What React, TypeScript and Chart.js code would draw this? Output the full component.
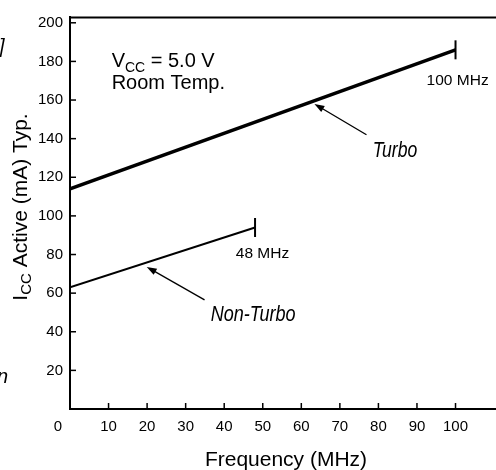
import React, { useEffect, useRef } from 'react';
import { Chart, registerables } from 'chart.js';

Chart.register(...registerables);

// ---- data ----
const xTickValues = [0, 10, 20, 30, 40, 50, 60, 70, 80, 90, 100];
const yTickValues = [20, 40, 60, 80, 100, 120, 140, 160, 180, 200];
const turboFreq = [0, 100];
const turboIcc = [114, 186];
const nonTurboFreq = [0, 48];
const nonTurboIcc = [63, 94];
const xAxisTitle = 'Frequency (MHz)';
const turboLabel = 'Turbo';
const nonTurboLabel = 'Non-Turbo';
const turboEndLabel = '100 MHz';
const nonTurboEndLabel = '48 MHz';
const conditionLine2 = 'Room Temp.';

const FONT = '"Liberation Sans", Arial, Helvetica, sans-serif';

type Seg = { text: string; size: number; dy: number };

function drawRich(ctx: CanvasRenderingContext2D, segs: Seg[], x: number, y: number, center: boolean) {
  let total = 0;
  const widths = segs.map((s) => {
    ctx.font = `${s.size}px ${FONT}`;
    const w = ctx.measureText(s.text).width;
    total += w;
    return w;
  });
  let cx = center ? x - total / 2 : x;
  segs.forEach((s, i) => {
    ctx.font = `${s.size}px ${FONT}`;
    ctx.fillText(s.text, cx, y + s.dy);
    cx += widths[i];
  });
}

function drawCondensed(ctx: CanvasRenderingContext2D, text: string, x: number, y: number, font: string, sx: number) {
  ctx.save();
  ctx.translate(x, y);
  ctx.scale(sx, 1);
  ctx.font = font;
  ctx.fillText(text, 0, 0);
  ctx.restore();
}

function drawArrow(ctx: CanvasRenderingContext2D, x1: number, y1: number, x2: number, y2: number) {
  const ang = Math.atan2(y2 - y1, x2 - x1);
  const hl = 10;
  const hw = 3.5;
  ctx.beginPath();
  ctx.moveTo(x1, y1);
  ctx.lineTo(x2 - Math.cos(ang) * hl * 0.8, y2 - Math.sin(ang) * hl * 0.8);
  ctx.lineWidth = 1.3;
  ctx.strokeStyle = '#000';
  ctx.stroke();
  ctx.beginPath();
  ctx.moveTo(x2, y2);
  ctx.lineTo(x2 - Math.cos(ang) * hl + Math.sin(ang) * hw, y2 - Math.sin(ang) * hl - Math.cos(ang) * hw);
  ctx.lineTo(x2 - Math.cos(ang) * hl - Math.sin(ang) * hw, y2 - Math.sin(ang) * hl + Math.cos(ang) * hw);
  ctx.closePath();
  ctx.fillStyle = '#000';
  ctx.fill();
}

const decorPlugin = {
  id: 'decor',
  afterDraw(chart: any) {
    const ctx: CanvasRenderingContext2D = chart.ctx;
    const { chartArea } = chart;
    const xs = chart.scales.x;
    const ys = chart.scales.y;
    const px = (v: number) => xs.getPixelForValue(v);
    const py = (v: number) => ys.getPixelForValue(v);
    ctx.save();
    ctx.strokeStyle = '#000';
    ctx.fillStyle = '#000';

    // top frame line
    ctx.lineWidth = 2;
    ctx.beginPath();
    ctx.moveTo(chartArea.left - 1, chartArea.top + 0.5);
    ctx.lineTo(chartArea.right, chartArea.top + 0.5);
    ctx.stroke();

    // inward tick marks
    ctx.lineWidth = 1.5;
    xTickValues.forEach((v) => {
      if (v === 0) return;
      const x = px(v);
      ctx.beginPath();
      ctx.moveTo(x, chartArea.bottom);
      ctx.lineTo(x, chartArea.bottom - 6);
      ctx.stroke();
    });
    yTickValues.forEach((v) => {
      const y = py(v);
      ctx.beginPath();
      ctx.moveTo(chartArea.left, y);
      ctx.lineTo(chartArea.left + 6, y);
      ctx.stroke();
    });

    // the "0" label sits left of the axis
    ctx.font = `15px ${FONT}`;
    ctx.textAlign = 'center';
    ctx.textBaseline = 'middle';
    ctx.fillText(String(xTickValues[0]), px(0) - 12, chartArea.bottom + 18);

    ctx.textAlign = 'left';
    ctx.textBaseline = 'alphabetic';

    // condition text
    drawRich(
      ctx,
      [
        { text: 'V', size: 20, dy: 0 },
        { text: 'CC', size: 14, dy: 5 },
        { text: ' = 5.0 V', size: 20, dy: 0 },
      ],
      px(10.8),
      py(177),
      false
    );
    ctx.font = `20px ${FONT}`;
    ctx.fillText(conditionLine2, px(10.8), py(165.7));

    // end labels
    ctx.font = `15.5px ${FONT}`;
    ctx.fillText(turboEndLabel, px(92.5), py(167.8));
    ctx.fillText(nonTurboEndLabel, px(43), py(78.2));

    // series labels (italic, condensed)
    drawCondensed(ctx, turboLabel, px(78.5), py(130.5), `italic 22px ${FONT}`, 0.8);
    drawCondensed(ctx, nonTurboLabel, px(36.5), py(45.6), `italic 22px ${FONT}`, 0.82);

    // arrows
    drawArrow(ctx, px(76.9), py(142), px(63.4), py(158));
    drawArrow(ctx, px(34.9), py(56.5), px(19.9), py(73.6));

    // x axis title
    ctx.font = `21px ${FONT}`;
    ctx.textAlign = 'center';
    ctx.fillText(xAxisTitle, 286, 466);

    // y axis title (rotated, with subscript)
    ctx.save();
    ctx.translate(27, 207);
    ctx.rotate(-Math.PI / 2);
    ctx.textAlign = 'left';
    drawRich(
      ctx,
      [
        { text: 'I', size: 21, dy: 0 },
        { text: 'CC', size: 15, dy: 4 },
        { text: ' Active (mA) Typ.', size: 21, dy: 0 },
      ],
      0,
      0,
      true
    );
    ctx.restore();

    // clipped fragments of neighbouring text at the left edge
    ctx.textAlign = 'left';
    ctx.font = `italic 20px ${FONT}`;
    ctx.fillText(']', -1, 53);
    ctx.fillText('n', -3, 383);

    ctx.restore();
  },
};

export default function App() {
  const canvasRef = useRef<HTMLCanvasElement | null>(null);

  useEffect(() => {
    const canvas = canvasRef.current;
    if (!canvas) return;
    const chart = new Chart(canvas, {
      type: 'line',
      data: {
        datasets: [
          {
            label: turboLabel,
            data: turboFreq.map((f, i) => ({ x: f, y: turboIcc[i] })),
            borderColor: '#000',
            borderWidth: 3.5,
            pointStyle: 'line',
            rotation: 90,
            pointRadius: turboFreq.map((_, i) => (i === turboFreq.length - 1 ? 9.5 : 0)),
            pointBorderWidth: 2,
            pointBorderColor: '#000',
            pointBackgroundColor: '#000',
            fill: false,
            tension: 0,
          },
          {
            label: nonTurboLabel,
            data: nonTurboFreq.map((f, i) => ({ x: f, y: nonTurboIcc[i] })),
            borderColor: '#000',
            borderWidth: 2,
            pointStyle: 'line',
            rotation: 90,
            pointRadius: nonTurboFreq.map((_, i) => (i === nonTurboFreq.length - 1 ? 9.5 : 0)),
            pointBorderWidth: 2,
            pointBorderColor: '#000',
            pointBackgroundColor: '#000',
            fill: false,
            tension: 0,
          },
        ],
      },
      options: {
        responsive: false,
        animation: false,
        events: [],
        layout: { autoPadding: false, padding: { top: 17, left: 0, right: 0, bottom: 0 } },
        plugins: {
          legend: { display: false },
          tooltip: { enabled: false },
          title: { display: false },
        },
        scales: {
          x: {
            type: 'linear',
            min: 0,
            max: 110.5,
            grid: { display: false, drawTicks: false },
            border: { display: true, color: '#000', width: 2 },
            afterBuildTicks: (scale: any) => {
              scale.ticks = xTickValues.map((v) => ({ value: v }));
            },
            afterFit: (scale: any) => {
              scale.height = 61;
              scale.paddingLeft = 0;
              scale.paddingRight = 0;
            },
            ticks: {
              autoSkip: false,
              maxRotation: 0,
              padding: 9,
              color: '#000',
              font: { family: FONT, size: 15 },
              callback: (v: any) => (v === 0 ? '' : String(v)),
            },
          },
          y: {
            type: 'linear',
            min: 0,
            max: 203,
            grid: { display: false, drawTicks: false },
            border: { display: true, color: '#000', width: 2 },
            afterBuildTicks: (scale: any) => {
              scale.ticks = yTickValues.map((v) => ({ value: v }));
            },
            afterFit: (scale: any) => {
              scale.width = 70;
              scale.paddingTop = 0;
              scale.paddingBottom = 0;
            },
            ticks: {
              autoSkip: false,
              padding: 7,
              color: '#000',
              font: { family: FONT, size: 15 },
              callback: (v: any) => String(v),
            },
          },
        },
      },
      plugins: [decorPlugin],
    } as any);
    return () => chart.destroy();
  }, []);

  return (
    <div style={{ position: 'absolute', left: 0, top: 0, width: 496, height: 470, background: '#fff' }}>
      <canvas ref={canvasRef} width={496} height={470} style={{ display: 'block' }} />
    </div>
  );
}
